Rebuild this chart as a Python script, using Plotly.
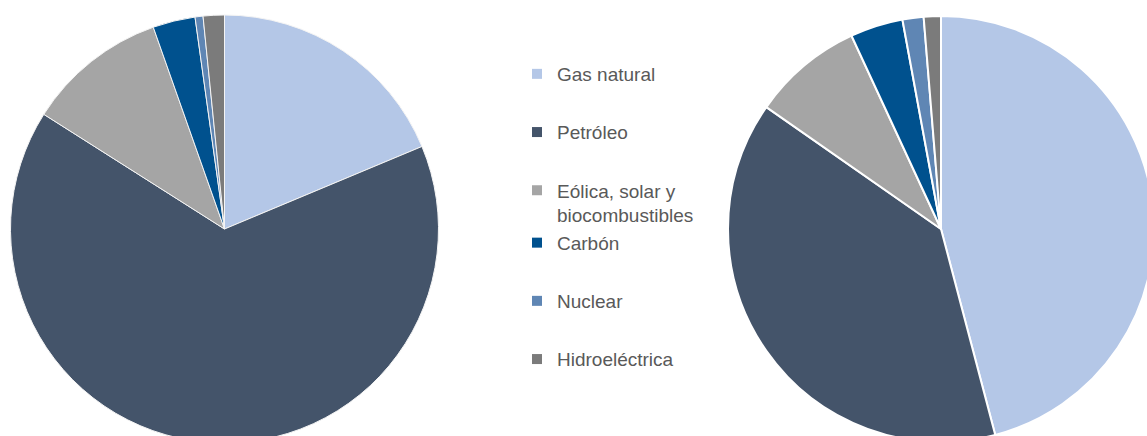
import plotly.graph_objects as go

# Energy mix shares (%) for two periods, one pie each
categories = ["Gas natural", "Petróleo", "Eólica, solar y biocombustibles",
              "Carbón", "Nuclear", "Hidroeléctrica"]
legend_labels = ["Gas natural", "Petróleo", "Eólica, solar y<br>biocombustibles",
                 "Carbón", "Nuclear", "Hidroeléctrica"]
left_values = [18.7, 65.3, 10.6, 3.2, 0.6, 1.6]
right_values = [45.9, 38.8, 8.4, 4.0, 1.6, 1.3]
colors = ["#B4C7E7", "#44546A", "#A5A5A5", "#00518E", "#5F86B4", "#7B7B7B"]
# the two-line entry shares a slot pair with the next one
legend_groups = ["g1", "g2", "g3", "g3", "g4", "g5"]

W, H = 1160, 458

fig = go.Figure()

fig.add_trace(go.Pie(
    labels=categories, values=left_values, sort=False,
    direction="clockwise", rotation=0, textinfo="none",
    hoverinfo="label+percent",
    marker=dict(colors=colors, line=dict(color="#F4F4F4", width=1)),
    domain=dict(x=[10.5 / W, 438.5 / W], y=[0, 1]),
    showlegend=False,
))

fig.add_trace(go.Pie(
    labels=categories, values=right_values, sort=False,
    direction="clockwise", rotation=0, textinfo="none",
    hoverinfo="label+percent",
    marker=dict(colors=colors, line=dict(color="white", width=2)),
    domain=dict(x=[728 / W, 1154 / W], y=[0, 1]),
    showlegend=False,
))

# legend entries
for name, color, grp in zip(legend_labels, colors, legend_groups):
    fig.add_trace(go.Scatter(
        x=[None], y=[None], mode="markers", name=name, legendgroup=grp,
        marker=dict(symbol="square", size=10, color=color),
        hoverinfo="skip",
    ))

fig.update_layout(
    width=W, height=H,
    margin=dict(l=0, r=0, t=0, b=0),
    paper_bgcolor="white", plot_bgcolor="white",
    xaxis=dict(visible=False), yaxis=dict(visible=False),
    legend=dict(
        x=517 / W, y=1 - 55 / H, xanchor="left", yanchor="top",
        font=dict(family="Liberation Sans, Arial, sans-serif", size=19, color="#595959"),
        valign="top", tracegroupgap=30.5, bgcolor="rgba(0,0,0,0)",
    ),
)

fig.write_html("out.html", post_script="document.body.style.overflow='hidden';")
